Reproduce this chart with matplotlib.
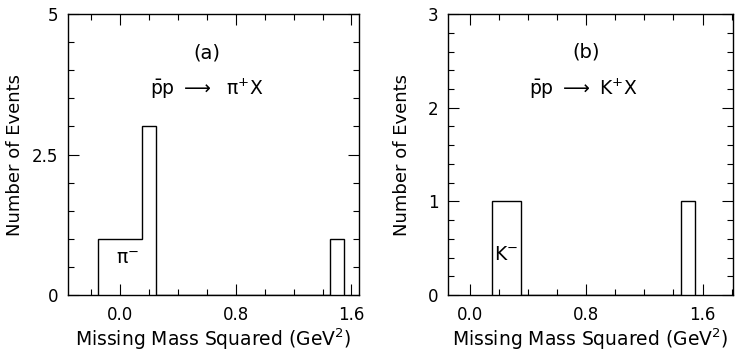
import numpy as np
import matplotlib.pyplot as plt
from matplotlib.ticker import MultipleLocator

plt.rcParams['font.family'] = ['DejaVu Sans']
plt.rcParams['mathtext.default'] = 'regular'

# histogram data
edges_a = [-0.15, 0.15, 0.25, 1.45, 1.55]
counts_a = [1, 3, 0, 1]
edges_b = [0.15, 0.35, 1.45, 1.55]
counts_b = [1, 0, 1]

yticks_a = [0, 2.5, 5]
ytick_labels_a = ['0', '2.5', '5']
yticks_b = [0, 1, 2, 3]
xticks = [0.0, 0.8, 1.6]
xtick_labels = ['0.0', '0.8', '1.6']

fig = plt.figure(figsize=(7.36, 3.52), dpi=100)
ax1 = fig.add_axes([0.0924, 0.162, 0.395, 0.798])
ax2 = fig.add_axes([0.609, 0.162, 0.387, 0.798])

def style(ax, xlim, ylim, yminor, ylab_x):
    ax.set_xlim(*xlim)
    ax.set_ylim(*ylim)
    ax.set_xticks(xticks)
    ax.set_xticklabels(xtick_labels)
    ax.xaxis.set_minor_locator(MultipleLocator(0.2))
    ax.yaxis.set_minor_locator(MultipleLocator(yminor))
    ax.tick_params(which='both', direction='in', top=True, right=True,
                   labelsize=12, width=0.8)
    ax.tick_params(axis='x', pad=8)
    ax.tick_params(axis='y', pad=7)
    ax.tick_params(which='major', length=8)
    ax.tick_params(which='minor', length=4)
    for s in ax.spines.values():
        s.set_linewidth(1.0)
    ax.set_xlabel('Missing Mass Squared (GeV$^2$)', fontsize=13.5)
    ax.xaxis.set_label_coords(0.5, -0.113)
    ax.set_ylabel('Number of Events', fontsize=13)
    ax.yaxis.set_label_coords(ylab_x, 0.5)

# panel (a)
ax1.stairs(counts_a, edges_a, baseline=0, color='black', linewidth=1.0)
style(ax1, (-0.36, 1.65), (0, 5), 0.5, -0.15)
ax1.set_yticks(yticks_a)
ax1.set_yticklabels(ytick_labels_a)
ax1.text(0.6, 4.3, '(a)', fontsize=14, ha='center', va='center')
ax1.text(0.6, 3.67, r'$\bar{p}p\ \longrightarrow\ \ \pi^{+}X$', fontsize=13.5,
         ha='center', va='center')
ax1.text(0.05, 0.65, r'$\pi^{-}$', fontsize=13.5, ha='center', va='center')

# panel (b)
ax2.stairs(counts_b, edges_b, baseline=0, color='black', linewidth=1.0)
style(ax2, (-0.15, 1.81), (0, 3), 0.2, -0.13)
ax2.set_yticks(yticks_b)
ax2.text(0.8, 2.6, '(b)', fontsize=14, ha='center', va='center')
ax2.text(0.78, 2.2, r'$\bar{p}p\ \longrightarrow\ K^{+}X$', fontsize=13.5,
         ha='center', va='center')
ax2.text(0.25, 0.43, r'$K^{-}$', fontsize=13.5, ha='center', va='center')

fig.savefig('out.png', dpi=100)
